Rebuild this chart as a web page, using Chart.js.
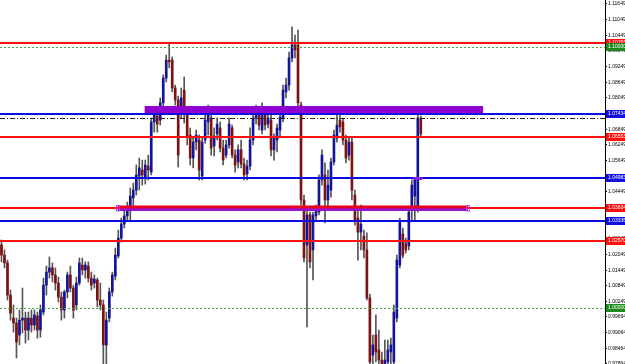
<!DOCTYPE html>
<html>
<head>
<meta charset="utf-8">
<script src="https://cdn.jsdelivr.net/npm/chart.js@4.4.0/dist/chart.umd.min.js"></script>
<style>
html, body { margin: 0; padding: 0; background: #fff; }
#wrap { width: 625px; height: 364px; }
</style>
</head>
<body>
<div id="wrap"><canvas id="mycanvas" width="625" height="364"></canvas></div>
<script>
// candles (price)
var open = [
1.0242,1.0203,1.0173,1.0050,0.9962,0.9943,0.9897,0.9954,0.9962,0.9916,
0.9962,0.9935,0.9970,0.9916,0.9985,1.0088,1.0138,1.0154,1.0127,1.0096,
1.0042,0.9993,1.0062,1.0127,1.0077,1.0012,1.0096,1.0165,1.0146,1.0161,
1.0115,1.0096,1.0108,1.0031,1.0012,0.9859,0.9962,1.0062,1.0123,1.0200,
1.0268,1.0322,1.0353,1.0376,1.0422,1.0452,1.0506,1.0529,1.0498,1.0544,
1.0521,1.0713,1.0736,1.0720,1.0786,1.0881,1.0950,1.0950,1.0843,1.0797,
1.0747,1.0835,1.0747,1.0663,1.0575,1.0636,1.0644,1.0506,1.0644,1.0713,
1.0728,1.0621,1.0667,1.0690,1.0613,1.0586,1.0625,1.0690,1.0586,1.0560,
1.0606,1.0552,1.0514,1.0544,1.0644,1.0728,1.0751,1.0682,1.0751,1.0705,
1.0720,1.0606,1.0644,1.0682,1.0728,1.0828,1.0854,1.0958,1.1008,1.1008,
1.0778,1.0414,1.0242,1.0357,1.0223,1.0353,1.0368,1.0491,1.0510,1.0414,
1.0452,1.0560,1.0651,1.0720,1.0713,1.0644,1.0586,1.0636,1.0433,1.0345,
1.0291,1.0276,1.0223,1.0039,0.9820,0.9897,0.9840,0.9801,0.9778,0.9794,
0.9832,0.9794,0.9962,1.0165,1.0284,1.0249,1.0238,1.0376,1.0429,1.0383,1.0728
];
var high = [
1.0261,1.0223,1.0184,1.0069,1.0012,0.9962,0.9993,1.0077,0.9985,0.9985,
0.9993,0.9993,0.9985,1.0012,1.0115,1.0161,1.0196,1.0173,1.0154,1.0119,
1.0062,1.0069,1.0138,1.0161,1.0088,1.0119,1.0192,1.0192,1.0177,1.0177,
1.0138,1.0127,1.0115,1.0096,1.0031,0.9985,1.0077,1.0138,1.0230,1.0299,
1.0345,1.0376,1.0406,1.0460,1.0479,1.0548,1.0575,1.0567,1.0567,1.0586,
1.0728,1.0766,1.0759,1.0805,1.0893,1.0969,1.1015,1.0962,1.0854,1.0812,
1.0843,1.0885,1.0766,1.0690,1.0651,1.0682,1.0663,1.0651,1.0740,1.0778,
1.0751,1.0690,1.0728,1.0713,1.0644,1.0644,1.0728,1.0701,1.0606,1.0625,
1.0644,1.0575,1.0567,1.0690,1.0751,1.0778,1.0766,1.0786,1.0759,1.0743,
1.0740,1.0667,1.0705,1.0759,1.0854,1.0881,1.0981,1.1077,1.1046,1.1065,
1.0789,1.0433,1.0376,1.0368,1.0368,1.0395,1.0510,1.0606,1.0556,1.0529,
1.0575,1.0682,1.0740,1.0759,1.0728,1.0663,1.0655,1.0655,1.0452,1.0376,
1.0395,1.0299,1.0288,1.0054,0.9897,0.9974,0.9916,0.9832,0.9878,0.9878,
0.9885,1.0012,1.0203,1.0345,1.0307,1.0268,1.0383,1.0491,1.0498,1.0751,1.0736
];
var low = [
1.0177,1.0154,1.0031,0.9954,0.9908,0.9809,0.9859,0.9905,0.9866,0.9878,
0.9908,0.9916,0.9885,0.9889,0.9974,1.0050,1.0115,1.0100,1.0069,1.0023,
0.9954,0.9962,1.0039,1.0062,0.9962,0.9993,1.0088,1.0127,1.0115,1.0100,
1.0069,1.0077,1.0004,0.9993,0.9786,0.9778,0.9947,1.0046,1.0108,1.0192,
1.0253,1.0307,1.0337,1.0330,1.0376,1.0433,1.0452,1.0471,1.0475,1.0491,
1.0510,1.0674,1.0674,1.0701,1.0774,1.0866,1.0920,1.0828,1.0778,1.0540,
1.0728,1.0709,1.0625,1.0548,1.0537,1.0606,1.0491,1.0491,1.0632,1.0663,
1.0586,1.0583,1.0644,1.0598,1.0548,1.0575,1.0613,1.0575,1.0521,1.0537,
1.0537,1.0491,1.0491,1.0529,1.0625,1.0705,1.0682,1.0667,1.0682,1.0690,
1.0583,1.0567,1.0598,1.0659,1.0713,1.0805,1.0835,1.0943,1.0958,1.0759,
1.0395,1.0177,0.9928,1.0154,1.0108,1.0337,1.0357,1.0471,1.0326,1.0376,
1.0425,1.0548,1.0636,1.0674,1.0625,1.0556,1.0567,1.0414,1.0318,1.0184,
1.0223,1.0192,1.0031,0.9763,0.9755,0.9794,0.9744,0.9725,0.9725,0.9744,
0.9771,0.9778,0.9947,1.0154,1.0192,1.0211,1.0223,1.0330,1.0337,1.0368,1.0655
];
var close = [
1.0203,1.0173,1.0050,0.9981,0.9943,0.9870,0.9954,0.9962,0.9916,0.9962,
0.9935,0.9974,0.9916,0.9993,1.0088,1.0138,1.0154,1.0127,1.0096,1.0042,
0.9993,1.0062,1.0127,1.0077,0.9993,1.0096,1.0173,1.0146,1.0165,1.0115,
1.0088,1.0111,1.0031,1.0012,0.9859,0.9954,1.0062,1.0127,1.0203,1.0268,
1.0322,1.0353,1.0383,1.0429,1.0452,1.0510,1.0537,1.0510,1.0548,1.0529,
1.0713,1.0740,1.0705,1.0786,1.0881,1.0950,1.0943,1.0843,1.0797,1.0586,
1.0805,1.0747,1.0655,1.0575,1.0636,1.0663,1.0529,1.0636,1.0720,1.0751,
1.0613,1.0659,1.0705,1.0613,1.0567,1.0625,1.0705,1.0586,1.0548,1.0606,
1.0552,1.0510,1.0544,1.0644,1.0728,1.0747,1.0701,1.0766,1.0701,1.0728,
1.0606,1.0651,1.0690,1.0732,1.0835,1.0854,1.0958,1.1008,1.0989,1.0786,
1.0414,1.0192,1.0357,1.0177,1.0357,1.0376,1.0491,1.0586,1.0414,1.0471,
1.0560,1.0663,1.0701,1.0694,1.0644,1.0575,1.0636,1.0452,1.0337,1.0291,
1.0322,1.0223,1.0039,0.9794,0.9859,0.9832,0.9801,0.9778,0.9801,0.9840,
0.9859,0.9985,1.0184,1.0330,1.0203,1.0223,1.0368,1.0471,1.0491,1.0728,1.0667
];

// price axis labels
var tickValues = [1.11649,1.11049,1.10449,1.09849,1.09249,1.08649,1.08049,1.07449,
  1.06849,1.06249,1.05649,1.05049,1.04449,1.03849,1.03249,1.02649,1.02049,1.01449,
  1.00849,1.00249,0.99664,0.99064,0.98464,0.97864];
var priceMin = 0.9786;
var priceMax = 1.1180;
var slotCount = 202;

// horizontal levels
var redLevels = [1.10153, 1.06553, 1.03834, 1.02570];
var blueLevels = [1.07434, 1.04983, 1.03336];
var greenLevels = [1.10000, 1.00000];
var dashLevel = 1.07281;
var zoneTop = 1.0774, zoneBottom = 1.0743, zoneFrom = 47.8, zoneTo = 160.8;
var stripTop = 1.0393, stripMid = 1.0382, stripBottom = 1.0372, stripFrom = 38.8, stripTo = 155.7;

var labels = [];
for (var i = 0; i < slotCount; i++) labels.push(String(i));

var wicks = [], bodies = [], bodyColors = [];
for (var i = 0; i < open.length; i++) {
	wicks.push([low[i], high[i]]);
	bodies.push([open[i], close[i]]);
	bodyColors.push(close[i] >= open[i] ? '#14149a' : '#7d1212');
}

var levelsPlugin = {
	id: 'levels',
	afterDatasetsDraw: function(chart) {
		var ctx = chart.ctx, a = chart.chartArea, xs = chart.scales.x, ys = chart.scales.y;
		function hline(v, color, w, dash, x0, x1) {
			var y = Math.round(ys.getPixelForValue(v)) + (w % 2 ? 0.5 : 0);
			ctx.save();
			ctx.strokeStyle = color; ctx.lineWidth = w; ctx.setLineDash(dash || []);
			ctx.beginPath();
			ctx.moveTo(x0 === undefined ? a.left : x0, y);
			ctx.lineTo(x1 === undefined ? a.right : x1, y);
			ctx.stroke();
			ctx.restore();
		}
		ctx.save();
		ctx.beginPath(); ctx.rect(a.left, a.top, a.right - a.left, a.bottom - a.top); ctx.clip();

		greenLevels.forEach(function(v) { hline(v, '#4aa84a', 1, [2, 2]); });

		// purple zone
		var zx0 = xs.getPixelForValue(zoneFrom), zx1 = xs.getPixelForValue(zoneTo);
		var zy0 = ys.getPixelForValue(zoneTop), zy1 = ys.getPixelForValue(zoneBottom);
		ctx.fillStyle = '#9000d0';
		ctx.fillRect(zx0, zy0, zx1 - zx0, zy1 - zy0);

		hline(dashLevel, '#222', 1, [5, 2, 1, 2]);
		redLevels.forEach(function(v) { hline(v, '#ff1010', 2); });
		blueLevels.forEach(function(v) { hline(v, '#0a0ae6', 2); });

		// red/purple strip
		var sx0 = xs.getPixelForValue(stripFrom), sx1 = xs.getPixelForValue(stripTo);
		var sy0 = ys.getPixelForValue(stripTop), sy1 = ys.getPixelForValue(stripMid), sy2 = ys.getPixelForValue(stripBottom);
		ctx.fillStyle = '#e8001c';
		ctx.fillRect(sx0, sy0, sx1 - sx0, sy1 - sy0);
		ctx.fillStyle = '#9410d0';
		ctx.fillRect(sx0, sy1, sx1 - sx0, sy2 - sy1);
		ctx.strokeStyle = '#c040e0'; ctx.lineWidth = 1;
		ctx.strokeRect(Math.round(sx0) - 1.5, Math.round(sy0) - 0.5, 3, sy2 - sy0);
		ctx.strokeRect(Math.round(sx1) - 1.5, Math.round(sy0) - 0.5, 3, sy2 - sy0);

		// small mark on blue level
		var mx0 = xs.getPixelForValue(137.5), mx1 = xs.getPixelForValue(140.5);
		ctx.fillStyle = '#8a20d8';
		ctx.fillRect(mx0, ys.getPixelForValue(blueLevels[1]) - 1, mx1 - mx0, 3);
		ctx.restore();
	},
	afterDraw: function(chart) {
		var ctx = chart.ctx, a = chart.chartArea, ys = chart.scales.y;
		function box(v, bg) {
			var y = Math.round(ys.getPixelForValue(v));
			ctx.fillStyle = bg;
			ctx.fillRect(a.right + 1, y - 4, 20, 8);
			ctx.fillStyle = '#fff';
			ctx.font = '5px "Liberation Sans"';
			ctx.textBaseline = 'middle';
			ctx.textAlign = 'left';
			ctx.fillText(v.toFixed(5), a.right + 3, y);
		}
		ctx.save();
		redLevels.forEach(function(v) { box(v, '#ff1010'); });
		blueLevels.forEach(function(v) { box(v, '#1010e0'); });
		greenLevels.forEach(function(v) { box(v, '#1e8a1e'); });
		ctx.restore();
	}
};

var ctx = document.getElementById('mycanvas');
var chart = new Chart(ctx, {
	type: 'bar',
	data: {
		labels: labels,
		datasets: [
			{
				label: 'range',
				data: wicks,
				backgroundColor: '#555555',
				barThickness: 1,
				grouped: false,
				order: 2
			},
			{
				label: 'body',
				data: bodies,
				backgroundColor: bodyColors,
				barThickness: 2,
				minBarLength: 1,
				grouped: false,
				order: 1
			}
		]
	},
	options: {
		responsive: false,
		animation: false,
		devicePixelRatio: 1,
		layout: { padding: 0 },
		plugins: { legend: { display: false }, tooltip: { enabled: false } },
		scales: {
			x: { display: false, offset: true },
			y: {
				position: 'right',
				min: priceMin,
				max: priceMax,
				afterBuildTicks: function(scale) {
					scale.ticks = tickValues.map(function(v) { return { value: v }; });
				},
				afterFit: function(scale) {
					scale.width = 20;
					scale.paddingTop = 0;
					scale.paddingBottom = 0;
				},
				border: { display: true, color: '#000', width: 1 },
				grid: { display: true, drawOnChartArea: false, drawTicks: true, tickLength: 2, color: '#000' },
				ticks: {
					autoSkip: false,
					padding: 1,
					color: '#000',
					font: { family: 'Liberation Sans', size: 5 },
					callback: function(v) { return Number(v).toFixed(5); }
				}
			}
		}
	},
	plugins: [levelsPlugin]
});
</script>
</body>
</html>
